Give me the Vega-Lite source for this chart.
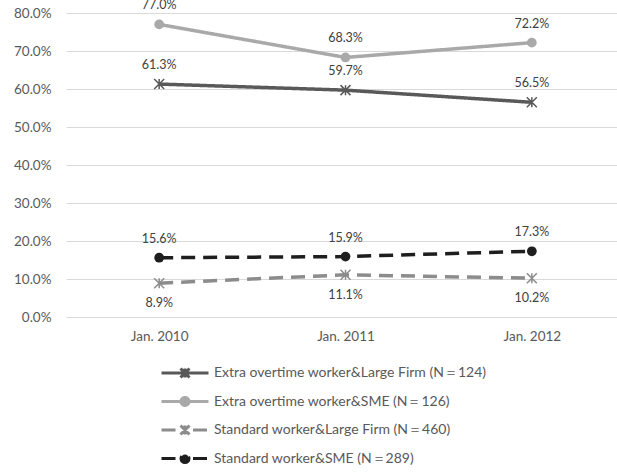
{
  "$schema": "https://vega.github.io/schema/vega-lite/v6.json",
  "width": 559,
  "height": 304,
  "autosize": {"type": "none"},
  "padding": {"left": 66, "top": 13, "right": 0, "bottom": 156},
  "background": "white",
  "config": {
    "view": {"stroke": null},
    "font": "Lato",
    "axis": {"labelFont": "Lato", "labelFontSize": 13.5, "labelColor": "#595959"},
    "legend": {"labelFont": "Lato", "labelFontSize": 14, "labelColor": "#595959"}
  },
  "data": {
    "values": [
      {"month": "Jan. 2010", "series": "Extra overtime worker&Large Firm (N＝124)", "share": 0.613},
      {"month": "Jan. 2011", "series": "Extra overtime worker&Large Firm (N＝124)", "share": 0.597},
      {"month": "Jan. 2012", "series": "Extra overtime worker&Large Firm (N＝124)", "share": 0.565},
      {"month": "Jan. 2010", "series": "Extra overtime worker&SME (N＝126)", "share": 0.770},
      {"month": "Jan. 2011", "series": "Extra overtime worker&SME (N＝126)", "share": 0.683},
      {"month": "Jan. 2012", "series": "Extra overtime worker&SME (N＝126)", "share": 0.722},
      {"month": "Jan. 2010", "series": "Standard worker&Large Firm (N＝460)", "share": 0.089},
      {"month": "Jan. 2011", "series": "Standard worker&Large Firm (N＝460)", "share": 0.111},
      {"month": "Jan. 2012", "series": "Standard worker&Large Firm (N＝460)", "share": 0.102},
      {"month": "Jan. 2010", "series": "Standard worker&SME (N＝289)", "share": 0.156},
      {"month": "Jan. 2011", "series": "Standard worker&SME (N＝289)", "share": 0.159},
      {"month": "Jan. 2012", "series": "Standard worker&SME (N＝289)", "share": 0.173}
    ]
  },
  "encoding": {
    "x": {
      "field": "month",
      "type": "ordinal",
      "scale": {"type": "point", "padding": 0.5},
      "axis": {"title": null, "labelAngle": 0, "ticks": false, "domain": false, "grid": false, "labelPadding": 12}
    },
    "y": {
      "field": "share",
      "type": "quantitative",
      "scale": {"domain": [0, 0.8], "nice": false},
      "axis": {
        "title": null,
        "format": ".1%",
        "values": [0, 0.1, 0.2, 0.3, 0.4, 0.5, 0.6, 0.7, 0.8],
        "ticks": false,
        "tickSize": 0,
        "domain": false,
        "labelPadding": 15,
        "gridColor": "#D9D9D9",
        "gridWidth": 1
      }
    },
    "color": {
      "field": "series",
      "type": "nominal",
      "scale": {
        "domain": [
          "Extra overtime worker&Large Firm (N＝124)",
          "Extra overtime worker&SME (N＝126)",
          "Standard worker&Large Firm (N＝460)",
          "Standard worker&SME (N＝289)"
        ],
        "range": ["#595959", "#A9A9A9", "#8C8C8C", "#1E1E1E"]
      },
      "legend": {
        "title": null,
        "orient": "none",
        "direction": "vertical",
        "legendX": 112,
        "legendY": 353,
        "padding": 0,
        "symbolSize": 100,
        "symbolStrokeWidth": 3,
        "labelOffset": 22,
        "labelLimit": 400,
        "rowPadding": 7.5,
        "encode": {
          "symbols": {
            "update": {
              "shape": {"signal": "indexof(domain('color'), datum.value) === 0 ? 'M-4.7,0H4.7M-0.9,-0.9L0.9,0.9M-0.9,0.9L0.9,-0.9M0,-0.9V0.9' : indexof(domain('color'), datum.value) === 1 ? 'M-4.7,0H4.7M-0.8,0A0.8,0.8 0 1,0 0.8,0A0.8,0.8 0 1,0 -0.8,0Z' : indexof(domain('color'), datum.value) === 2 ? 'M-4.7,0H-1.6M1.6,0H4.7M-0.9,-0.9L0.9,0.9M-0.9,0.9L0.9,-0.9M0,-0.9V0.9' : 'M-4.7,0H-1.6M1.6,0H4.7M-0.8,0A0.8,0.8 0 1,0 0.8,0A0.8,0.8 0 1,0 -0.8,0Z'"},
              "fill": {"signal": "scale('color', datum.value)"},
              "stroke": {"signal": "scale('color', datum.value)"},
              "strokeWidth": {"value": 3},
              "strokeDash": {"value": []},
              "opacity": {"value": 1}
            }
          }
        }
      }
    }
  },
  "layer": [
    {
      "mark": {"type": "line", "strokeWidth": 3.5},
      "encoding": {
        "strokeDash": {
          "field": "series",
          "type": "nominal",
          "scale": {
            "domain": [
              "Extra overtime worker&Large Firm (N＝124)",
              "Extra overtime worker&SME (N＝126)",
              "Standard worker&Large Firm (N＝460)",
              "Standard worker&SME (N＝289)"
            ],
            "range": [[1, 0], [1, 0], [14, 8], [14, 8]]
          },
          "legend": null
        }
      }
    },
    {
      "transform": [{"filter": "indexof(datum.series, 'SME') >= 0"}],
      "mark": {"type": "point", "shape": "circle", "filled": true, "size": 95, "opacity": 1}
    },
    {
      "transform": [{"filter": "indexof(datum.series, 'Large Firm') >= 0"}],
      "mark": {"type": "point", "shape": "M-1,-1L1,1M-1,1L1,-1M0,-1V1", "filled": false, "size": 100, "strokeWidth": 1.5, "opacity": 1}
    },
    {
      "transform": [{"filter": "indexof(datum.series, 'Standard worker&Large Firm') < 0"}],
      "mark": {"type": "text", "dy": -19, "fontSize": 12.5, "font": "Lato"},
      "encoding": {
        "text": {"field": "share", "type": "quantitative", "format": ".1%"},
        "color": {"value": "#404040"}
      }
    },
    {
      "transform": [{"filter": "indexof(datum.series, 'Standard worker&Large Firm') >= 0"}],
      "mark": {"type": "text", "dy": 20, "fontSize": 12.5, "font": "Lato"},
      "encoding": {
        "text": {"field": "share", "type": "quantitative", "format": ".1%"},
        "color": {"value": "#404040"}
      }
    }
  ]
}
